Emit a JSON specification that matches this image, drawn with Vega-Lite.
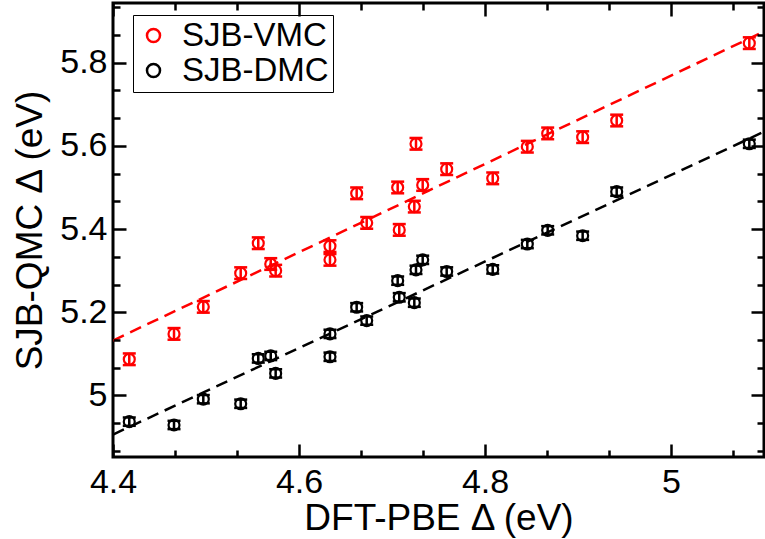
{
  "$schema": "https://vega.github.io/schema/vega-lite/v6.json",
  "width": 651,
  "height": 454,
  "autosize": "none",
  "padding": {"left": 113, "top": 3, "right": 1, "bottom": 82},
  "background": "white",
  "config": {
    "font": "Liberation Sans",
    "view": {"stroke": "black", "strokeWidth": 3, "fill": "transparent"},
    "axis": {
      "domain": false,
      "labelColor": "black",
      "labelFont": "Liberation Sans",
      "labelFontSize": 34,
      "labelFlush": false,
      "labelOverlap": false,
      "titleColor": "black",
      "titleFont": "Liberation Sans",
      "titleFontSize": 37,
      "titleFontWeight": "normal"
    },
    "legend": {
      "labelFont": "Liberation Sans",
      "labelFontSize": 33,
      "labelColor": "black"
    }
  },
  "datasets": {
    "pts": [
      {"series": "SJB-VMC", "dft": 4.4175, "qmc": 5.087, "lo": 5.073, "hi": 5.101},
      {"series": "SJB-VMC", "dft": 4.4656, "qmc": 5.148, "lo": 5.134, "hi": 5.162},
      {"series": "SJB-VMC", "dft": 4.4971, "qmc": 5.213, "lo": 5.199, "hi": 5.227},
      {"series": "SJB-VMC", "dft": 4.5373, "qmc": 5.294, "lo": 5.280, "hi": 5.308},
      {"series": "SJB-VMC", "dft": 4.5562, "qmc": 5.366, "lo": 5.352, "hi": 5.380},
      {"series": "SJB-VMC", "dft": 4.5696, "qmc": 5.316, "lo": 5.302, "hi": 5.330},
      {"series": "SJB-VMC", "dft": 4.5749, "qmc": 5.300, "lo": 5.286, "hi": 5.314},
      {"series": "SJB-VMC", "dft": 4.6333, "qmc": 5.359, "lo": 5.345, "hi": 5.373},
      {"series": "SJB-VMC", "dft": 4.6333, "qmc": 5.326, "lo": 5.312, "hi": 5.340},
      {"series": "SJB-VMC", "dft": 4.6620, "qmc": 5.486, "lo": 5.472, "hi": 5.500},
      {"series": "SJB-VMC", "dft": 4.6728, "qmc": 5.415, "lo": 5.401, "hi": 5.429},
      {"series": "SJB-VMC", "dft": 4.7061, "qmc": 5.500, "lo": 5.486, "hi": 5.514},
      {"series": "SJB-VMC", "dft": 4.7078, "qmc": 5.398, "lo": 5.384, "hi": 5.412},
      {"series": "SJB-VMC", "dft": 4.7240, "qmc": 5.454, "lo": 5.440, "hi": 5.468},
      {"series": "SJB-VMC", "dft": 4.7258, "qmc": 5.605, "lo": 5.591, "hi": 5.619},
      {"series": "SJB-VMC", "dft": 4.7330, "qmc": 5.506, "lo": 5.492, "hi": 5.520},
      {"series": "SJB-VMC", "dft": 4.7588, "qmc": 5.544, "lo": 5.530, "hi": 5.558},
      {"series": "SJB-VMC", "dft": 4.8083, "qmc": 5.522, "lo": 5.508, "hi": 5.536},
      {"series": "SJB-VMC", "dft": 4.8455, "qmc": 5.598, "lo": 5.584, "hi": 5.612},
      {"series": "SJB-VMC", "dft": 4.8674, "qmc": 5.630, "lo": 5.616, "hi": 5.644},
      {"series": "SJB-VMC", "dft": 4.9050, "qmc": 5.621, "lo": 5.607, "hi": 5.635},
      {"series": "SJB-VMC", "dft": 4.9416, "qmc": 5.661, "lo": 5.647, "hi": 5.675},
      {"series": "SJB-VMC", "dft": 5.0842, "qmc": 5.847, "lo": 5.833, "hi": 5.861},
      {"series": "SJB-DMC", "dft": 4.4175, "qmc": 4.937, "lo": 4.927, "hi": 4.947},
      {"series": "SJB-DMC", "dft": 4.4656, "qmc": 4.929, "lo": 4.919, "hi": 4.939},
      {"series": "SJB-DMC", "dft": 4.4971, "qmc": 4.991, "lo": 4.981, "hi": 5.001},
      {"series": "SJB-DMC", "dft": 4.5373, "qmc": 4.980, "lo": 4.970, "hi": 4.990},
      {"series": "SJB-DMC", "dft": 4.5562, "qmc": 5.089, "lo": 5.079, "hi": 5.099},
      {"series": "SJB-DMC", "dft": 4.5696, "qmc": 5.095, "lo": 5.085, "hi": 5.105},
      {"series": "SJB-DMC", "dft": 4.5749, "qmc": 5.053, "lo": 5.043, "hi": 5.063},
      {"series": "SJB-DMC", "dft": 4.6333, "qmc": 5.148, "lo": 5.138, "hi": 5.158},
      {"series": "SJB-DMC", "dft": 4.6333, "qmc": 5.093, "lo": 5.083, "hi": 5.103},
      {"series": "SJB-DMC", "dft": 4.6620, "qmc": 5.212, "lo": 5.202, "hi": 5.222},
      {"series": "SJB-DMC", "dft": 4.6728, "qmc": 5.180, "lo": 5.170, "hi": 5.190},
      {"series": "SJB-DMC", "dft": 4.7061, "qmc": 5.276, "lo": 5.266, "hi": 5.286},
      {"series": "SJB-DMC", "dft": 4.7078, "qmc": 5.236, "lo": 5.226, "hi": 5.246},
      {"series": "SJB-DMC", "dft": 4.7240, "qmc": 5.223, "lo": 5.213, "hi": 5.233},
      {"series": "SJB-DMC", "dft": 4.7258, "qmc": 5.302, "lo": 5.292, "hi": 5.312},
      {"series": "SJB-DMC", "dft": 4.7330, "qmc": 5.326, "lo": 5.316, "hi": 5.336},
      {"series": "SJB-DMC", "dft": 4.7588, "qmc": 5.298, "lo": 5.288, "hi": 5.308},
      {"series": "SJB-DMC", "dft": 4.8083, "qmc": 5.303, "lo": 5.293, "hi": 5.313},
      {"series": "SJB-DMC", "dft": 4.8455, "qmc": 5.364, "lo": 5.354, "hi": 5.374},
      {"series": "SJB-DMC", "dft": 4.8674, "qmc": 5.397, "lo": 5.387, "hi": 5.407},
      {"series": "SJB-DMC", "dft": 4.9050, "qmc": 5.384, "lo": 5.374, "hi": 5.394},
      {"series": "SJB-DMC", "dft": 4.9416, "qmc": 5.490, "lo": 5.480, "hi": 5.500},
      {"series": "SJB-DMC", "dft": 5.0842, "qmc": 5.605, "lo": 5.595, "hi": 5.615}
    ],
    "fits": [
      {"series": "SJB-VMC", "dft": 4.4, "qmc": 5.132},
      {"series": "SJB-VMC", "dft": 5.1, "qmc": 5.875},
      {"series": "SJB-DMC", "dft": 4.4, "qmc": 4.906},
      {"series": "SJB-DMC", "dft": 5.1, "qmc": 5.634}
    ]
  },
  "layer": [
    {
      "data": {"name": "pts"},
      "mark": {"type": "point", "shape": "circle", "filled": false, "size": 120, "strokeWidth": 2.2, "opacity": 1},
      "encoding": {
        "x": {
          "field": "dft", "type": "quantitative",
          "scale": {"domain": [4.4, 5.1], "nice": false, "zero": false},
          "axis": {
            "orient": "bottom",
            "zindex": 1,
            "values": [4.4, 4.6, 4.8, 5.0],
            "format": "~g",
            "ticks": false,
            "grid": true,
            "gridColor": "black",
            "gridOpacity": 1,
            "gridWidth": 2.5,
            "gridDash": [13, 428, 13, 200],
            "labelPadding": 8,
            "title": "DFT-PBE Δ (eV)",
            "titlePadding": 1
          }
        },
        "y": {
          "field": "qmc", "type": "quantitative",
          "scale": {"domain": [4.852, 5.9435], "nice": false, "zero": false},
          "axis": {
            "orient": "left",
            "zindex": 1,
            "values": [5.0, 5.2, 5.4, 5.6, 5.8],
            "format": "~g",
            "ticks": false,
            "grid": true,
            "gridColor": "black",
            "gridOpacity": 1,
            "gridWidth": 2.5,
            "gridDash": [13, 625, 13, 200],
            "labelPadding": 6,
            "title": "SJB-QMC Δ (eV)",
            "titlePadding": 10
          }
        },
        "color": {
          "field": "series", "type": "nominal",
          "scale": {"domain": ["SJB-VMC", "SJB-DMC"], "range": ["#ff0000", "#000000"]},
          "legend": {
            "title": null,
            "orient": "none",
            "legendX": 20,
            "legendY": 12,
            "padding": 4,
            "strokeColor": "black",
            "symbolType": "circle",
            "symbolSize": 170,
            "symbolStrokeWidth": 2.5,
            "symbolFillColor": "transparent",
            "symbolOffset": 0,
            "labelOffset": 12,
            "rowPadding": 1,
            "encode": {
              "legend": {"update": {"strokeWidth": {"value": 2.5}}}
            }
          }
        }
      }
    },
    {
      "data": {"name": "pts"},
      "mark": {"type": "rule", "strokeWidth": 2.5},
      "encoding": {
        "x": {
          "field": "dft", "type": "quantitative",
          "axis": {
            "zindex": 1,
            "values": [4.4667, 4.5333, 4.6667, 4.7333, 4.8667, 4.9333, 5.0667],
            "labels": false, "ticks": false, "domain": false, "title": null,
            "grid": true, "gridColor": "black", "gridOpacity": 1, "gridWidth": 2.5,
            "gridDash": [7, 440, 7, 200]
          }
        },
        "y": {
          "field": "lo", "type": "quantitative",
          "axis": {
            "zindex": 1,
            "values": [4.8667, 4.9333, 5.0667, 5.1333, 5.2667, 5.3333, 5.4667, 5.5333, 5.6667, 5.7333, 5.8667, 5.9333],
            "labels": false, "ticks": false, "domain": false, "title": null,
            "grid": true, "gridColor": "black", "gridOpacity": 1, "gridWidth": 2.5,
            "gridDash": [7, 637, 7, 200]
          }
        },
        "y2": {"field": "hi"},
        "color": {"field": "series", "type": "nominal", "legend": null}
      }
    },
    {
      "data": {"name": "pts"},
      "mark": {"type": "tick", "orient": "horizontal", "size": 13, "thickness": 2.5, "opacity": 1},
      "encoding": {
        "x": {"field": "dft", "type": "quantitative", "axis": null},
        "y": {"field": "lo", "type": "quantitative", "axis": null},
        "color": {"field": "series", "type": "nominal", "legend": null}
      }
    },
    {
      "data": {"name": "pts"},
      "mark": {"type": "tick", "orient": "horizontal", "size": 13, "thickness": 2.5, "opacity": 1},
      "encoding": {
        "x": {"field": "dft", "type": "quantitative", "axis": null},
        "y": {"field": "hi", "type": "quantitative", "axis": null},
        "color": {"field": "series", "type": "nominal", "legend": null}
      }
    },
    {
      "data": {"name": "fits"},
      "mark": {"type": "line", "strokeDash": [12, 7], "strokeWidth": 2.5, "clip": true},
      "encoding": {
        "x": {"field": "dft", "type": "quantitative", "axis": null},
        "y": {"field": "qmc", "type": "quantitative", "axis": null},
        "color": {"field": "series", "type": "nominal", "legend": null}
      }
    }
  ],
  "resolve": {"axis": {"x": "independent", "y": "independent"}, "legend": {"color": "independent"}}
}
